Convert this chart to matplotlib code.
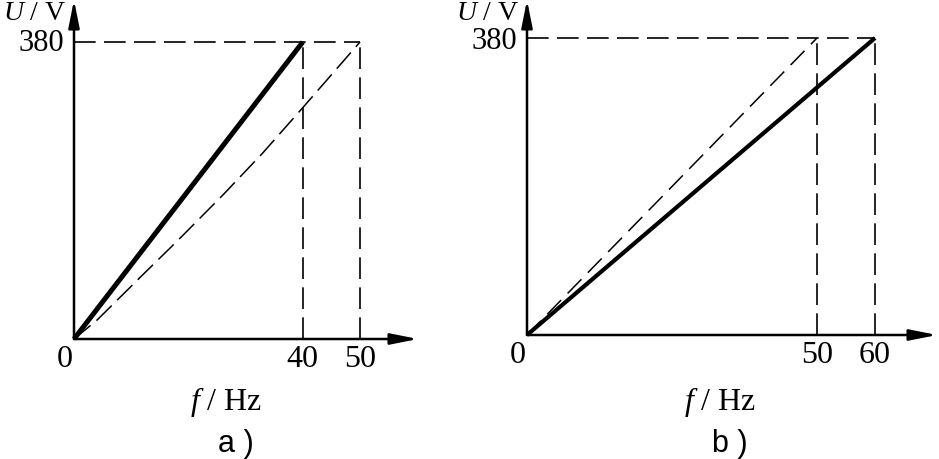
import matplotlib.pyplot as plt

plt.rcParams['font.family'] = 'Liberation Serif'
plt.rcParams['mathtext.fontset'] = 'custom'
plt.rcParams['mathtext.it'] = 'Liberation Serif:italic'
plt.rcParams['mathtext.rm'] = 'Liberation Serif'

U_rated = 380

# a) base frequency lowered to 40 Hz
f_a_ticks = [40, 50]
f_a_solid = [0, 40]
U_a_solid = [0, 380]
f_a_dash = [0, 4, 12, 18, 26, 33, 40, 50]
U_a_dash = [0, 24, 82, 125, 184, 238, 296, 380]

# b) base frequency raised to 60 Hz
f_b_ticks = [50, 60]
f_b_solid = [0, 60]
U_b_solid = [0, 380]
f_b_dash = [0, 50]
U_b_dash = [0, 380]

W, H = 939, 460
fig = plt.figure(figsize=(W / 100, H / 100), dpi=100)


def panel(ox, oy, right, px_f, px_u, ticks, f_sol, u_sol, lw_sol, f_dash, u_dash, dash_style,
          caption, cap_x, y380_off):
    ax = fig.add_axes([ox / W, (H - oy) / H, (right - ox) / W, (oy - 1) / H])
    ax.set_xlim(0, (right - ox) / px_f)
    ax.set_ylim(0, (oy - 1) / px_u)
    ax.axis('off')

    # axes with arrow heads
    arrow = dict(arrowstyle='-|>,head_length=1.1,head_width=0.22', color='k', lw=1.8,
                 shrinkA=0, shrinkB=0, mutation_scale=15)
    ax.annotate('', xy=(1, 0), xytext=(0, 0), xycoords='axes fraction', arrowprops=arrow)
    ax.annotate('', xy=(0, 1), xytext=(0, 0), xycoords='axes fraction', arrowprops=arrow)

    # guide lines
    fmax = max(ticks)
    ax.plot([0, fmax], [U_rated, U_rated], color='k', lw=1.2, dashes=(13, 5), clip_on=False)
    for t in ticks:
        ax.plot([t, t], [0, U_rated], color='k', lw=1.2, dashes=(13, 5), clip_on=False)

    ax.plot(f_dash, u_dash, color='k', lw=1.1, dashes=dash_style, clip_on=False)
    ax.plot(f_sol, u_sol, color='k', lw=lw_sol, solid_capstyle='butt', clip_on=False)

    fs = 23
    for t in ticks:
        ax.annotate(str(t), xy=(t, 0), xytext=(0, -20), textcoords='offset pixels',
                    ha='center', va='center', fontsize=fs)
    ax.annotate('0', xy=(0, 0), xytext=(-9, -20), textcoords='offset pixels',
                ha='center', va='center', fontsize=fs)
    ax.annotate('380', xy=(0, U_rated), xytext=(-10, y380_off), textcoords='offset pixels',
                ha='right', va='center', fontsize=22)
    ax.annotate('$U$ / V', xy=(0, 1), xycoords='axes fraction', xytext=(-8, -12),
                textcoords='offset pixels', ha='right', va='center', fontsize=20)

    fig.text(cap_x / W, 1 - 402 / H, '$f$ / Hz', ha='center', va='center', fontsize=fs)
    fig.text((cap_x + 10) / W, 1 - 444 / H, caption, ha='center', va='center',
             fontsize=22, family='Liberation Sans')


panel(74, 340, 418, 5.72, 0.7816, f_a_ticks, f_a_solid, U_a_solid, 3.6,
      f_a_dash, U_a_dash, (14, 5), 'a )', 226, -1)
panel(527, 336, 937, 5.8, 0.7816, f_b_ticks, f_b_solid, U_b_solid, 3.0,
      f_b_dash, U_b_dash, (13, 6), 'b )', 720, -3)

fig.savefig('out.png', dpi=100)
